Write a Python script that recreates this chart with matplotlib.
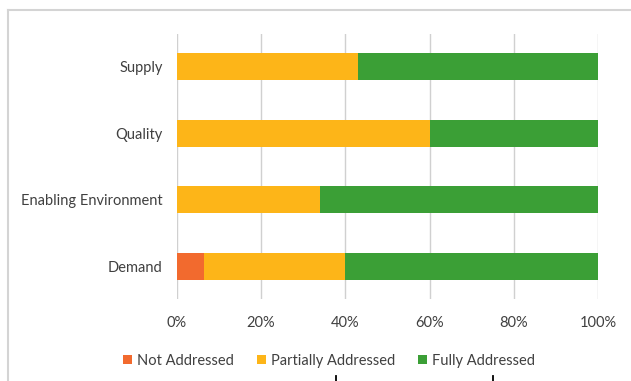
import matplotlib
matplotlib.use("Agg")
import matplotlib.pyplot as plt
from matplotlib.patches import Patch
from matplotlib.lines import Line2D
import numpy as np

categories = ["Supply", "Quality", "Enabling Environment", "Demand"]
not_addressed = [0, 0, 0, 6.6]
partially_addressed = [43, 60, 34, 33.4]
fully_addressed = [57, 40, 66, 60]
series_names = ["Not Addressed", "Partially Addressed", "Fully Addressed"]
tick_values = [0, 20, 40, 60, 80, 100]
tick_labels = ["0%", "20%", "40%", "60%", "80%", "100%"]

colors = ["#F26A2E", "#FDB518", "#3B9F36"]
text_color = "#404040"

plt.rcParams["font.family"] = ["Lato", "DejaVu Sans"]

fig = plt.figure(figsize=(6.31, 3.81), dpi=100)
ax = fig.add_axes([0.280, 0.214, 0.668, 0.698])

y = np.arange(len(categories))
left = np.zeros(len(categories))
for vals, col in zip([not_addressed, partially_addressed, fully_addressed], colors):
    ax.barh(y, vals, left=left, height=0.4, color=col, zorder=3)
    left += np.array(vals)

ax.set_ylim(len(categories) - 0.5, -0.5)
ax.set_xlim(0, 100)
ax.set_yticks(y)
ax.set_yticklabels(categories, fontsize=10.5, color=text_color)
ax.set_xticks(tick_values)
ax.set_xticklabels(tick_labels, fontsize=10.5, color=text_color)
ax.tick_params(axis="y", length=0, pad=10)
ax.tick_params(axis="x", length=0, pad=12)
ax.grid(axis="x", color="#d0d0d0", linewidth=1.0, zorder=0)
for s in ax.spines.values():
    s.set_visible(False)

handles = [Patch(facecolor=c, edgecolor="none") for c in colors]
fig.legend(handles, series_names, loc="center", ncol=3,
           bbox_to_anchor=(329 / 631, 1 - 361 / 381), frameon=False,
           fontsize=10.5, labelcolor=text_color, handlelength=0.6,
           handleheight=0.6, handletextpad=0.35, columnspacing=1.6)

# chart frame (top and left edges)
W, H = 631, 381
fig.add_artist(Line2D([8 / W, 1.0], [1 - 10 / H, 1 - 10 / H],
                      transform=fig.transFigure, color="#d4d4d4", lw=1.5))
fig.add_artist(Line2D([8 / W, 8 / W], [0.0, 1 - 10 / H],
                      transform=fig.transFigure, color="#d4d4d4", lw=1.5))

# small marks along the bottom edge
for xm in [336, 493]:
    fig.add_artist(Line2D([xm / W, xm / W], [0.0, 1 - 376 / H],
                          transform=fig.transFigure, color="black", lw=1.3))

fig.savefig("out.png", dpi=100)
